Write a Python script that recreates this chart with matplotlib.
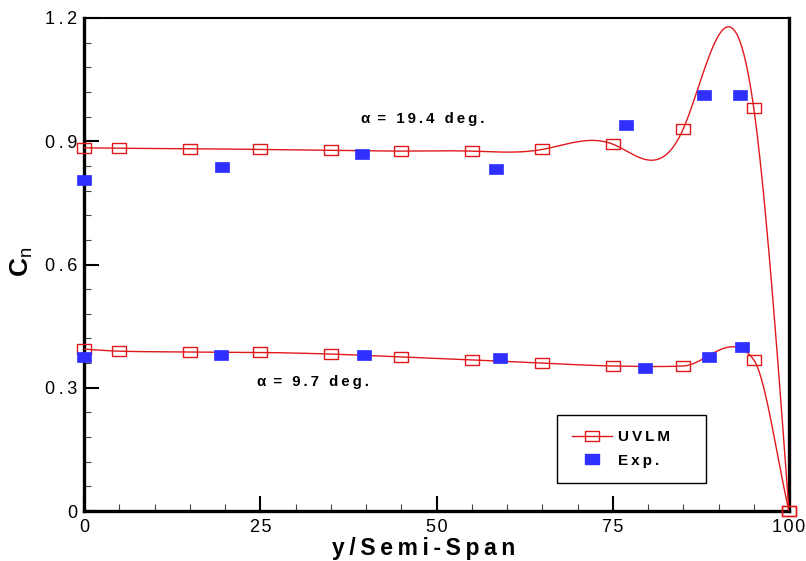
import numpy as np
import matplotlib
matplotlib.use("Agg")
import matplotlib.pyplot as plt
from matplotlib.path import Path
from matplotlib.lines import Line2D
from matplotlib.ticker import FixedLocator, FixedFormatter, MultipleLocator

plt.rcParams['font.family'] = ['Liberation Sans', 'DejaVu Sans']
plt.rcParams['mathtext.fontset'] = 'custom'
plt.rcParams['mathtext.rm'] = 'Liberation Sans'
plt.rcParams['mathtext.bf'] = 'Liberation Sans:bold'

# ---- data ----
uvlm_x = [0, 5, 15, 25, 35, 45, 55, 65, 75, 85, 95, 100]
uvlm_hi = [0.884, 0.883, 0.882, 0.880, 0.878, 0.876, 0.876, 0.880, 0.893, 0.930, 0.981, 0.0]
uvlm_lo = [0.394, 0.389, 0.387, 0.386, 0.382, 0.375, 0.368, 0.360, 0.353, 0.353, 0.368, 0.0]

exp_hi_x = [0, 19.6, 39.5, 58.5, 76.9, 87.9, 93.0]
exp_hi_y = [0.806, 0.837, 0.869, 0.832, 0.940, 1.012, 1.012]
exp_lo_x = [0, 19.5, 39.7, 59.0, 79.6, 88.7, 93.3]
exp_lo_y = [0.375, 0.380, 0.380, 0.372, 0.347, 0.374, 0.398]

x_ticks = [0, 25, 50, 75, 100]
x_tick_labels = ["0", "25", "50", "75", "100"]
y_ticks = [0, 0.3, 0.6, 0.9, 1.2]
y_tick_labels = ["0", "0.3", "0.6", "0.9", "1.2"]

RED = '#e0181c'
BLUE = '#2f2fff'
TS = '\u2009'
HS = '\u200a'


def spaced(s, sep=TS):
    return sep.join(list(s))


def natural_spline(x, y, xs):
    x = np.asarray(x, float); y = np.asarray(y, float)
    n = len(x)
    h = np.diff(x)
    A = np.zeros((n, n)); b = np.zeros(n)
    A[0, 0] = 1; A[-1, -1] = 1
    for i in range(1, n - 1):
        A[i, i - 1] = h[i - 1]
        A[i, i] = 2 * (h[i - 1] + h[i])
        A[i, i + 1] = h[i]
        b[i] = 6 * ((y[i + 1] - y[i]) / h[i] - (y[i] - y[i - 1]) / h[i - 1])
    M = np.linalg.solve(A, b)
    idx = np.clip(np.searchsorted(x, xs) - 1, 0, n - 2)
    x0 = x[idx]; x1 = x[idx + 1]; hh = x1 - x0
    t0 = x1 - xs; t1 = xs - x0
    return (M[idx] * t0 ** 3 / (6 * hh) + M[idx + 1] * t1 ** 3 / (6 * hh)
            + (y[idx] / hh - M[idx] * hh / 6) * t0
            + (y[idx + 1] / hh - M[idx + 1] * hh / 6) * t1)


def cardinal_spline(x, y, xs):
    x = np.asarray(x, float); y = np.asarray(y, float)
    n = len(x)
    s = np.zeros(n)
    s[0] = (y[1] - y[0]) / (x[1] - x[0])
    s[-1] = (y[-1] - y[-2]) / (x[-1] - x[-2])
    s[1:-1] = (y[2:] - y[:-2]) / (x[2:] - x[:-2])
    idx = np.clip(np.searchsorted(x, xs) - 1, 0, n - 2)
    h = x[idx + 1] - x[idx]
    u = (xs - x[idx]) / h
    h00 = 2 * u ** 3 - 3 * u ** 2 + 1
    h10 = u ** 3 - 2 * u ** 2 + u
    h01 = -2 * u ** 3 + 3 * u ** 2
    h11 = u ** 3 - u ** 2
    return h00 * y[idx] + h10 * h * s[idx] + h01 * y[idx + 1] + h11 * h * s[idx + 1]


rect = Path([(-1, -0.78), (1, -0.78), (1, 0.78), (-1, 0.78), (-1, -0.78)],
            [Path.MOVETO, Path.LINETO, Path.LINETO, Path.LINETO, Path.CLOSEPOLY])

fig = plt.figure(figsize=(8.06, 5.61), dpi=100)
ax = fig.add_axes([84 / 806, 50 / 561, 705 / 806, 493 / 561])

xs = np.linspace(0, 100, 1001)
ax.plot(xs, natural_spline(uvlm_x, uvlm_hi, xs), color=RED, lw=1.0, zorder=3)
ax.plot(xs, cardinal_spline(uvlm_x, uvlm_lo, xs), color=RED, lw=1.0, zorder=3)
for yy in (uvlm_hi, uvlm_lo):
    ax.plot(uvlm_x, yy, ls='none', marker=rect, ms=10, mfc='none', mec=RED,
            mew=1.0, clip_on=False, zorder=4)

for ex, ey in ((exp_hi_x, exp_hi_y), (exp_lo_x, exp_lo_y)):
    ax.plot(ex, ey, ls='none', marker=rect, ms=10, mfc=BLUE, mec=BLUE,
            mew=0.5, clip_on=False, zorder=5)

ax.set_xlim(0, 100)
ax.set_ylim(0, 1.2)

ax.xaxis.set_major_locator(FixedLocator(x_ticks))
ax.xaxis.set_major_formatter(FixedFormatter([spaced(s, HS) for s in x_tick_labels]))
ax.yaxis.set_major_locator(FixedLocator(y_ticks))
ax.yaxis.set_major_formatter(FixedFormatter([spaced(s) for s in y_tick_labels]))
ax.xaxis.set_minor_locator(MultipleLocator(5))
ax.yaxis.set_minor_locator(MultipleLocator(0.06))

ax.tick_params(which='both', direction='in', top=False, right=False,
               labelsize=13, colors='black')
ax.tick_params(which='major', length=11, width=1.5)
ax.tick_params(which='minor', length=5, width=0.8, color='#444444')
ax.tick_params(axis='x', which='major', pad=6)
ax.tick_params(axis='y', which='major', pad=5)

for side in ('left', 'bottom', 'right'):
    ax.spines[side].set_linewidth(2.4)
ax.spines['top'].set_linewidth(1.5)

ax.set_xlabel(spaced('y/Semi-Span'), fontsize=16.5, fontweight='bold', va='center')
ax.xaxis.set_label_coords(0.4816, -0.076)
ax.set_ylabel(r'$\mathbf{C}_{\mathrm{n}}$', fontsize=19, rotation=90,
              va='center', ha='center')
ax.yaxis.set_label_coords(-0.088, 0.505)

ax.text(39.3, 0.954, '\u03b1 ' + TS + spaced('= 19.4 deg.'), fontsize=10.8,
        fontweight='bold', ha='left', va='center')
ax.text(24.5, 0.314, '\u03b1 ' + TS + spaced('= 9.7 deg.'), fontsize=10.8,
        fontweight='bold', ha='left', va='center')

h_uvlm = Line2D([], [], color=RED, lw=1.0, marker=rect, ms=10, mfc='none',
                mec=RED, mew=1.0)
h_exp = Line2D([], [], ls='none', marker=rect, ms=10, mfc=BLUE, mec=BLUE)
leg = ax.legend([h_uvlm, h_exp], [spaced('UVLM'), spaced('Exp.')],
                loc='lower left', bbox_to_anchor=(0.671, 0.057, 0.211, 0.15),
                mode='expand', numpoints=1, handlelength=2.6,
                handletextpad=0.4, borderpad=1.0, labelspacing=0.6,
                prop={'size': 11, 'weight': 'bold'}, fancybox=False,
                framealpha=1, edgecolor='black', borderaxespad=0)
leg.get_frame().set_linewidth(1.0)

fig.savefig('out.png', dpi=100)
